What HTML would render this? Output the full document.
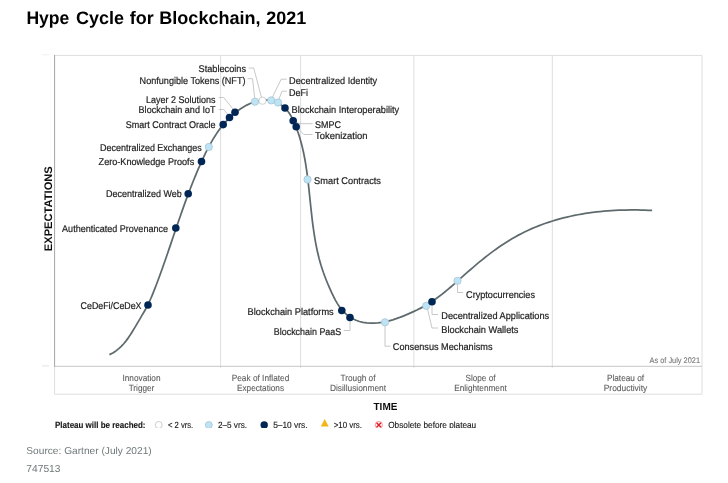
<!DOCTYPE html>
<html lang="en"><head><meta charset="utf-8"><title>Hype Cycle for Blockchain, 2021</title>
<style>html,body{margin:0;padding:0;background:#fff}body{width:728px;height:483px;overflow:hidden;position:relative;font-family:"Liberation Sans",Arial,sans-serif}svg{position:absolute;left:0;top:0;display:block}text{font-family:"Liberation Sans",Arial,sans-serif;text-rendering:geometricPrecision}</style></head><body>
<svg width="728" height="483" viewBox="0 0 728 483">
<defs><clipPath id="c"><rect x="0" y="0" width="728" height="428"/></clipPath><filter id="b" x="0" y="0" width="728" height="483" filterUnits="userSpaceOnUse"><feGaussianBlur stdDeviation="0.4"/></filter></defs>
<rect width="728" height="483" fill="#fff"/>
<text y="23.9" font-size="18" font-weight="700" fill="#000"><tspan x="26.4" textLength="42.9" lengthAdjust="spacingAndGlyphs">Hype</tspan> <tspan x="76.1" textLength="48" lengthAdjust="spacingAndGlyphs">Cycle</tspan> <tspan x="129.8" textLength="23.9" lengthAdjust="spacingAndGlyphs">for</tspan> <tspan x="159.3" textLength="101.3" lengthAdjust="spacingAndGlyphs">Blockchain,</tspan> <tspan x="266.3" textLength="40" lengthAdjust="spacingAndGlyphs">2021</tspan></text>
<g clip-path="url(#c)"><g filter="url(#b)">
<g stroke="#dedede" stroke-width="1" fill="none">
<path d="M54.6 55.4 H702 V394.2 H54.6 V366.4"/>
<line x1="220.6" y1="55.4" x2="220.6" y2="368"/>
<line x1="300.6" y1="55.4" x2="300.6" y2="368"/>
<line x1="413.9" y1="55.4" x2="413.9" y2="368"/>
<line x1="552.3" y1="55.4" x2="552.3" y2="368"/>
<line x1="54.6" y1="366.3" x2="702" y2="366.3" stroke="#c6c6c6"/>
<line x1="54.6" y1="54.9" x2="54.6" y2="366.8" stroke="#a4a4a4"/>
</g>
<g stroke="#e2e2e2" stroke-width="1"><line x1="42" y1="54.8" x2="49" y2="54.8" stroke="#eeeeee"/><line x1="42" y1="365.9" x2="49" y2="365.9"/></g>
<path d="M109.41 354.64 L112.79 352.93 L115.91 350.92 L118.79 348.65 L121.46 346.16 L123.94 343.47 L126.26 340.61 L128.45 337.61 L130.53 334.50 L132.53 331.32 L134.48 328.09 L136.40 324.84 L138.31 321.60 L140.23 318.39 L142.12 315.18 L143.99 311.97 L145.79 308.73 L147.51 305.45 L149.14 302.13 L150.68 298.76 L152.15 295.34 L153.56 291.90 L154.92 288.44 L156.25 284.96 L157.56 281.47 L158.85 277.98 L160.13 274.48 L161.40 270.98 L162.65 267.48 L163.88 263.97 L165.11 260.45 L166.33 256.93 L167.54 253.41 L168.75 249.89 L169.95 246.37 L171.15 242.85 L172.35 239.32 L173.54 235.80 L174.74 232.27 L175.94 228.75 L177.14 225.22 L178.35 221.70 L179.57 218.19 L180.79 214.67 L182.03 211.16 L183.27 207.65 L184.53 204.15 L185.80 200.65 L187.09 197.16 L188.39 193.67 L189.71 190.19 L191.05 186.71 L192.41 183.25 L193.79 179.79 L195.20 176.34 L196.63 172.90 L198.09 169.46 L199.58 166.04 L201.09 162.63 L202.64 159.23 L204.22 155.84 L205.85 152.48 L207.53 149.14 L209.26 145.84 L211.06 142.58 L212.93 139.37 L214.88 136.21 L216.91 133.11 L219.04 130.08 L221.27 127.12 L223.60 124.25 L226.05 121.46 L228.62 118.76 L231.32 116.16 L234.16 113.67 L237.13 111.29 L240.25 109.05 L243.48 106.97 L246.81 105.10 L250.23 103.47 L253.70 102.12 L257.23 101.08 L260.78 100.39 L264.34 100.08 L267.90 100.19 L271.43 100.75 L274.90 101.79 L278.24 103.27 L281.40 105.17 L284.29 107.46 L286.86 110.09 L289.13 113.03 L291.13 116.20 L292.90 119.56 L294.49 123.05 L295.93 126.60 L297.26 130.18 L298.50 133.76 L299.63 137.34 L300.68 140.94 L301.65 144.54 L302.54 148.15 L303.36 151.77 L304.11 155.39 L304.81 159.02 L305.44 162.66 L306.03 166.31 L306.58 169.97 L307.09 173.64 L307.57 177.32 L308.02 181.00 L308.44 184.70 L308.86 188.40 L309.25 192.11 L309.64 195.82 L310.03 199.54 L310.41 203.26 L310.80 206.98 L311.20 210.70 L311.61 214.42 L312.03 218.13 L312.48 221.84 L312.96 225.54 L313.46 229.24 L314.00 232.93 L314.58 236.61 L315.19 240.28 L315.86 243.93 L316.58 247.57 L317.35 251.20 L318.19 254.81 L319.08 258.40 L320.05 261.97 L321.09 265.52 L322.21 269.05 L323.40 272.56 L324.67 276.05 L326.01 279.52 L327.42 282.98 L328.89 286.43 L330.41 289.87 L331.99 293.31 L333.64 296.73 L335.38 300.10 L337.25 303.37 L339.28 306.49 L341.52 309.43 L343.99 312.14 L346.69 314.60 L349.61 316.78 L352.71 318.67 L355.99 320.24 L359.42 321.48 L362.98 322.36 L366.65 322.92 L370.39 323.17 L374.17 323.15 L377.96 322.87 L381.73 322.38 L385.46 321.69 L389.12 320.83 L392.71 319.81 L396.25 318.67 L399.75 317.41 L403.22 316.06 L406.65 314.64 L410.08 313.16 L413.48 311.63 L416.86 310.04 L420.19 308.37 L423.48 306.63 L426.70 304.79 L429.85 302.86 L432.93 300.84 L435.96 298.74 L438.94 296.57 L441.87 294.33 L444.76 292.03 L447.62 289.68 L450.45 287.29 L453.26 284.86 L456.05 282.41 L458.84 279.94 L461.62 277.45 L464.40 274.96 L467.19 272.47 L470.00 270.00 L472.83 267.54 L475.68 265.10 L478.55 262.69 L481.45 260.31 L484.38 257.96 L487.33 255.65 L490.30 253.37 L493.31 251.14 L496.34 248.95 L499.40 246.80 L502.49 244.71 L505.61 242.67 L508.77 240.69 L511.95 238.77 L515.17 236.91 L518.42 235.12 L521.70 233.40 L525.02 231.75 L528.36 230.17 L531.74 228.65 L535.15 227.21 L538.59 225.83 L542.06 224.52 L545.55 223.27 L549.06 222.08 L552.60 220.96 L556.16 219.89 L559.74 218.89 L563.34 217.95 L566.96 217.06 L570.59 216.24 L574.24 215.47 L577.90 214.75 L581.58 214.09 L585.27 213.48 L588.97 212.92 L592.67 212.42 L596.39 211.96 L600.11 211.56 L603.83 211.20 L607.56 210.89 L611.29 210.63 L615.03 210.41 L618.76 210.23 L622.49 210.10 L626.22 210.01 L629.94 209.96 L633.66 209.95 L637.37 209.98 L641.07 210.05 L644.77 210.15 L648.45 210.29 L652.13 210.47" fill="none" stroke="#5e6b6e" stroke-width="1.75" stroke-linecap="butt" stroke-linejoin="round"/>
<g stroke="#c2c2c2" stroke-width="0.9" fill="none">
<polyline points="248.7,68 253.7,68 261.5,97.5"/>
<polyline points="247.5,78.7 252.5,78.7 254.7,98"/>
<polyline points="218.7,97.5 223.7,97.5 233,109"/>
<polyline points="218.7,109.5 223.7,109.5 228,114.5"/>
<polyline points="286.7,79.2 281.2,79.2 272.5,97"/>
<polyline points="286.7,91.2 282,91.2 279,99"/>
<polyline points="295.5,121.8 300,123.7 312.5,123.7"/>
<polyline points="298.5,129 303.7,134.5 312.5,134.5"/>
<polyline points="350,321 350,330.5 343.7,330.5"/>
<polyline points="385,326 385,346.2 390.5,346.2"/>
<polyline points="432,305.5 432,314.5 438,314.5"/>
<polyline points="427.5,309 432,328 438,328"/>
<polyline points="457.5,284.5 457.5,292.5 463,292.5"/>
</g>
<circle cx="148" cy="305" r="3.8" fill="#002856"/>
<circle cx="175.8" cy="228" r="3.8" fill="#002856"/>
<circle cx="188.2" cy="193.7" r="3.8" fill="#002856"/>
<circle cx="201.5" cy="161.5" r="3.8" fill="#002856"/>
<circle cx="208.8" cy="147" r="3.65" fill="#bde3f5" stroke="#a3c3d3" stroke-width="0.7"/>
<circle cx="223.2" cy="124.6" r="3.8" fill="#002856"/>
<circle cx="229.5" cy="117.5" r="3.8" fill="#002856"/>
<circle cx="235" cy="112.2" r="3.8" fill="#002856"/>
<circle cx="255" cy="101.7" r="3.65" fill="#bde3f5" stroke="#a3c3d3" stroke-width="0.7"/>
<circle cx="262.5" cy="100.7" r="3.65" fill="#fff" stroke="#bdbdbd" stroke-width="0.7"/>
<circle cx="271.2" cy="100.4" r="3.65" fill="#bde3f5" stroke="#a3c3d3" stroke-width="0.7"/>
<circle cx="278" cy="102.5" r="3.65" fill="#bde3f5" stroke="#a3c3d3" stroke-width="0.7"/>
<circle cx="285" cy="108" r="3.8" fill="#002856"/>
<circle cx="293.2" cy="120.8" r="3.8" fill="#002856"/>
<circle cx="296.2" cy="126.8" r="3.8" fill="#002856"/>
<circle cx="307.5" cy="179.5" r="3.65" fill="#bde3f5" stroke="#a3c3d3" stroke-width="0.7"/>
<circle cx="341.8" cy="310.5" r="3.8" fill="#002856"/>
<circle cx="350" cy="317.5" r="3.8" fill="#002856"/>
<circle cx="385" cy="322.3" r="3.65" fill="#bde3f5" stroke="#a3c3d3" stroke-width="0.7"/>
<circle cx="426.2" cy="305.8" r="3.65" fill="#bde3f5" stroke="#a3c3d3" stroke-width="0.7"/>
<circle cx="432" cy="301.8" r="3.8" fill="#002856"/>
<circle cx="457.5" cy="280.8" r="3.65" fill="#bde3f5" stroke="#a3c3d3" stroke-width="0.7"/>
<g font-size="9.8" fill="#222" stroke="#222" stroke-width="0.2">
<text x="80.6" y="308.7" textLength="60.9" lengthAdjust="spacingAndGlyphs">CeDeFi/CeDeX</text>
<text x="62.1" y="232" textLength="105.9" lengthAdjust="spacingAndGlyphs">Authenticated Provenance</text>
<text x="106.1" y="197" textLength="75.6" lengthAdjust="spacingAndGlyphs">Decentralized Web</text>
<text x="98.6" y="165" textLength="95.6" lengthAdjust="spacingAndGlyphs">Zero-Knowledge Proofs</text>
<text x="100.1" y="150.5" textLength="101.6" lengthAdjust="spacingAndGlyphs">Decentralized Exchanges</text>
<text x="125.8" y="128.2" textLength="89.7" lengthAdjust="spacingAndGlyphs">Smart Contract Oracle</text>
<text x="138.6" y="113.2" textLength="76.9" lengthAdjust="spacingAndGlyphs">Blockchain and IoT</text>
<text x="146.1" y="102.5" textLength="69.4" lengthAdjust="spacingAndGlyphs">Layer 2 Solutions</text>
<text x="139.6" y="83.7" textLength="105.9" lengthAdjust="spacingAndGlyphs">Nonfungible Tokens (NFT)</text>
<text x="198.6" y="72" textLength="47.4" lengthAdjust="spacingAndGlyphs">Stablecoins</text>
<text x="289.1" y="83.7" textLength="88.1" lengthAdjust="spacingAndGlyphs">Decentralized Identity</text>
<text x="289.1" y="95.7" textLength="18.9" lengthAdjust="spacingAndGlyphs">DeFi</text>
<text x="291.6" y="112.5" textLength="107.6" lengthAdjust="spacingAndGlyphs">Blockchain Interoperability</text>
<text x="315.1" y="128" textLength="25.9" lengthAdjust="spacingAndGlyphs">SMPC</text>
<text x="315.1" y="139.2" textLength="52.4" lengthAdjust="spacingAndGlyphs">Tokenization</text>
<text x="314.1" y="184.2" textLength="66.9" lengthAdjust="spacingAndGlyphs">Smart Contracts</text>
<text x="247.6" y="315" textLength="86.1" lengthAdjust="spacingAndGlyphs">Blockchain Platforms</text>
<text x="273.8" y="334.5" textLength="67.4" lengthAdjust="spacingAndGlyphs">Blockchain PaaS</text>
<text x="392.8" y="350" textLength="99.7" lengthAdjust="spacingAndGlyphs">Consensus Mechanisms</text>
<text x="441.3" y="333" textLength="77.2" lengthAdjust="spacingAndGlyphs">Blockchain Wallets</text>
<text x="441.3" y="319.2" textLength="107.9" lengthAdjust="spacingAndGlyphs">Decentralized Applications</text>
<text x="466.1" y="298" textLength="68.9" lengthAdjust="spacingAndGlyphs">Cryptocurrencies</text>
</g>
<g font-size="9" fill="#5c5c5c" stroke="#5c5c5c" stroke-width="0.1" text-anchor="middle">
<text x="141.5" y="380.7" textLength="38" lengthAdjust="spacingAndGlyphs">Innovation</text>
<text x="141.5" y="390.8" textLength="25.7" lengthAdjust="spacingAndGlyphs">Trigger</text>
<text x="260.5" y="380.7" textLength="57.5" lengthAdjust="spacingAndGlyphs">Peak of Inflated</text>
<text x="260.5" y="390.8" textLength="47" lengthAdjust="spacingAndGlyphs">Expectations</text>
<text x="358" y="380.7" textLength="35" lengthAdjust="spacingAndGlyphs">Trough of</text>
<text x="358" y="390.8" textLength="56.2" lengthAdjust="spacingAndGlyphs">Disillusionment</text>
<text x="480.5" y="380.7" textLength="30" lengthAdjust="spacingAndGlyphs">Slope of</text>
<text x="480.5" y="390.8" textLength="52.5" lengthAdjust="spacingAndGlyphs">Enlightenment</text>
<text x="625.5" y="380.7" textLength="37.2" lengthAdjust="spacingAndGlyphs">Plateau of</text>
<text x="625.5" y="390.8" textLength="43.5" lengthAdjust="spacingAndGlyphs">Productivity</text>
</g>
<text x="649.5" y="363.3" font-size="8.1" fill="#747474" stroke="#747474" stroke-width="0.1" textLength="50.5" lengthAdjust="spacingAndGlyphs">As of July 2021</text>
<text x="373.5" y="410" font-size="10.3" font-weight="700" fill="#111" textLength="23.9" lengthAdjust="spacingAndGlyphs">TIME</text>
<text transform="translate(52.1,251.2) rotate(-90)" font-size="11" font-weight="700" fill="#111" textLength="85" lengthAdjust="spacingAndGlyphs">EXPECTATIONS</text>
<g font-size="9" fill="#161616" stroke="#161616" stroke-width="0.12">
<text x="55" y="427.7" font-weight="700" textLength="90.5" lengthAdjust="spacingAndGlyphs">Plateau will be reached:</text>
<circle cx="158.7" cy="425" r="3.5" fill="#fff" stroke="#b4babd" stroke-width="0.7"/>
<text x="168" y="427.7" textLength="25.2" lengthAdjust="spacingAndGlyphs">&lt; 2 yrs.</text>
<circle cx="208.8" cy="425" r="3.5" fill="#bde3f5" stroke="#a3c3d3" stroke-width="0.7"/>
<text x="218" y="427.7" textLength="29" lengthAdjust="spacingAndGlyphs">2–5 yrs.</text>
<circle cx="264.2" cy="425" r="3.7" fill="#002856" stroke="none"/>
<text x="273.2" y="427.7" textLength="34.3" lengthAdjust="spacingAndGlyphs">5–10 yrs.</text>
<polygon points="324.7,419 328.7,426.6 320.8,426.6" fill="#f4b619" stroke="none"/>
<text x="333.7" y="427.7" textLength="28.3" lengthAdjust="spacingAndGlyphs">&gt;10 yrs.</text>
<circle cx="378.8" cy="425" r="3.6" fill="#fff" stroke="#ee5a60" stroke-width="0.6"/>
<path d="M376.6 422.8 L381 427.2 M381 422.8 L376.6 427.2" stroke="#e51f27" stroke-width="1.5" fill="none"/>
<text x="388.2" y="427.7" textLength="88" lengthAdjust="spacingAndGlyphs">Obsolete before plateau</text>
</g>
</g></g>
<text x="26.3" y="453.7" font-size="10" fill="#6f7878" textLength="125.4" lengthAdjust="spacingAndGlyphs">Source: Gartner (July 2021)</text>
<text x="26.3" y="471.8" font-size="10.2" fill="#6f7878" textLength="34.2" lengthAdjust="spacingAndGlyphs">747513</text>
</svg></body></html>
